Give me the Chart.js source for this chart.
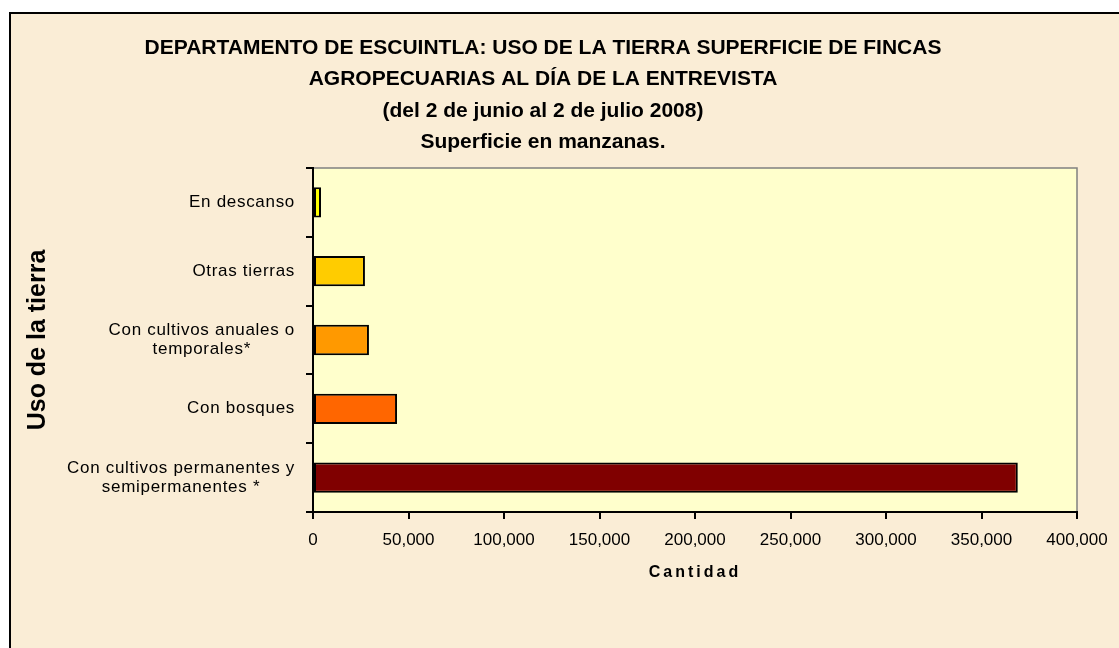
<!DOCTYPE html>
<html lang="es">
<head>
<meta charset="utf-8">
<title>Escuintla: uso de la tierra</title>
<script src="https://cdn.jsdelivr.net/npm/chart.js@4.4.1/dist/chart.umd.min.js"></script>
<style>
    html, body {
        margin: 0;
        padding: 0;
        width: 1119px;
        height: 648px;
        overflow: hidden;
        background: #ffffff;
    }
    .chart-frame {
        position: absolute;
        left: 9px;
        top: 12px;
        width: 1200px;
        height: 700px;
        border: 2px solid #000000;
        background: #faedd6;
    }
    .chart-box {
        position: absolute;
        left: 0;
        top: 0;
        width: 1119px;
        height: 648px;
    }
</style>
</head>
<body>
<div class="chart-frame"></div>
<div class="chart-box">
    <canvas id="usoTierraChart" width="1119" height="648"></canvas>
</div>
<script>
// Datos (superficie en manzanas)
const categorias = [
    'En descanso',
    'Otras tierras',
    ['Con cultivos anuales o', 'temporales*'],
    'Con bosques',
    ['Con cultivos permanentes y', 'semipermanentes *']
];
const superficie = [4200, 27200, 29300, 44000, 369000];
const coloresBarras = ['#FFFF00', '#FFCC00', '#FF9900', '#FF6600', '#800000'];
const ticksX = [0, 50000, 100000, 150000, 200000, 250000, 300000, 350000, 400000];
const tituloLineas = [
    'DEPARTAMENTO DE ESCUINTLA: USO DE LA TIERRA SUPERFICIE DE FINCAS',
    'AGROPECUARIAS AL DÍA DE LA ENTREVISTA',
    '(del 2 de junio al 2 de julio 2008)',
    'Superficie en manzanas.'
];

Chart.defaults.font.family = 'Arial, "Liberation Sans", sans-serif';
Chart.defaults.color = '#000000';

// Fondo amarillo del área de trazado con borde gris
const fondoArea = {
    id: 'fondoArea',
    beforeDraw(chart) {
        const {ctx, chartArea} = chart;
        ctx.save();
        ctx.fillStyle = '#FFFFCC';
        ctx.fillRect(chartArea.left, chartArea.top, chartArea.width, chartArea.height);
        ctx.strokeStyle = '#808080';
        ctx.lineWidth = 1.5;
        ctx.strokeRect(chartArea.left, chartArea.top, chartArea.width, chartArea.height);
        ctx.restore();
    }
};

// Ajustes de texto: espaciado de letras y etiquetas de dos líneas centradas
const ajusteTexto = {
    id: 'ajusteTexto',
    beforeDraw(chart) {
        const yScale = chart.scales.y;
        const xScale = chart.scales.x;
        if (!yScale._ajustado) {
            const origItems = yScale._computeLabelItems;
            yScale._computeLabelItems = function(area) {
                const items = origItems.call(this, area);
                const ctx = this.ctx;
                items.forEach(item => {
                    if (Array.isArray(item.label)) {
                        ctx.font = item.font.string;
                        const ancho = Math.max(...item.label.map(l => ctx.measureText(l).width));
                        item.options.textAlign = 'center';
                        item.options.translation[0] -= ancho / 2;
                    }
                });
                return items;
            };
            const origLabels = yScale.drawLabels;
            yScale.drawLabels = function(area) {
                this.ctx.save();
                this.ctx.letterSpacing = '0.7px';
                origLabels.call(this, area);
                this.ctx.restore();
            };
            yScale._ajustado = true;
        }
        if (!xScale._ajustado) {
            const origTitle = xScale.drawTitle;
            xScale.drawTitle = function() {
                this.ctx.save();
                this.ctx.letterSpacing = '3px';
                origTitle.call(this);
                this.ctx.restore();
            };
            xScale._ajustado = true;
        }
    }
};

const ctx = document.getElementById('usoTierraChart');
const usoTierraChart = new Chart(ctx, {
    type: 'bar',
    data: {
        labels: categorias,
        datasets: [{
            label: 'Superficie (manzanas)',
            data: superficie,
            backgroundColor: coloresBarras,
            borderColor: '#000000',
            borderWidth: 2,
            borderSkipped: false,
            barPercentage: 0.44,
            categoryPercentage: 1
        }]
    },
    options: {
        responsive: false,
        animation: false,
        indexAxis: 'y',
        layout: {
            padding: { left: 9, right: 42, top: 12, bottom: 56 }
        },
        plugins: {
            legend: { display: false },
            tooltip: { enabled: false },
            title: {
                display: true,
                text: tituloLineas,
                color: '#000000',
                font: { size: 21, weight: 'bold', lineHeight: 1.5 },
                padding: { top: 20, bottom: 10 }
            }
        },
        scales: {
            x: {
                type: 'linear',
                min: 0,
                max: 400000,
                afterBuildTicks(scale) {
                    scale.ticks = ticksX.map(v => ({ value: v }));
                },
                afterFit(scale) {
                    scale.height = 80;
                },
                ticks: {
                    color: '#000000',
                    font: { size: 17 },
                    padding: 11,
                    maxRotation: 0,
                    callback: value => value.toLocaleString('en-US')
                },
                grid: {
                    drawOnChartArea: false,
                    drawTicks: true,
                    tickLength: 7,
                    color: '#000000',
                    lineWidth: 2
                },
                border: { color: '#000000', width: 2 },
                title: {
                    display: true,
                    text: 'Cantidad',
                    color: '#000000',
                    font: { size: 16, weight: 'bold' },
                    padding: { top: 0, bottom: 10 }
                }
            },
            y: {
                afterFit(scale) {
                    scale.width = 304;
                },
                ticks: {
                    color: '#000000',
                    font: { size: 17, lineHeight: 1.15 },
                    padding: 11
                },
                grid: {
                    offset: true,
                    drawOnChartArea: false,
                    drawTicks: true,
                    tickLength: 7,
                    color: '#000000',
                    lineWidth: 2
                },
                border: { color: '#000000', width: 2 },
                title: {
                    display: true,
                    text: 'Uso de la tierra',
                    color: '#000000',
                    font: { size: 25, weight: 'bold', lineHeight: 1.2 },
                    padding: { top: 14, bottom: 0 }
                }
            }
        }
    },
    plugins: [fondoArea, ajusteTexto]
});
</script>
</body>
</html>
